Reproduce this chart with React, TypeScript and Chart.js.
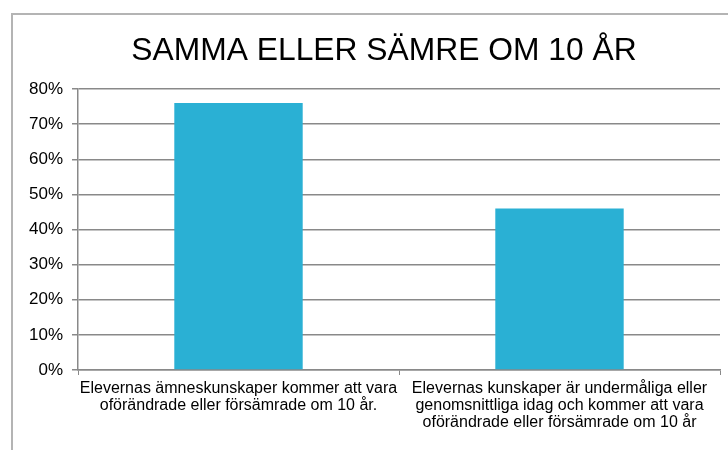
import React, { useEffect, useRef } from "react";
import { Chart, registerables } from "chart.js";

Chart.register(...registerables);

const TITLE = "SAMMA ELLER SÄMRE OM 10 ÅR";
const CATEGORIES: string[][] = [
  ["Elevernas ämneskunskaper kommer att vara", "oförändrade eller försämrade om 10 år."],
  [
    "Elevernas kunskaper är undermåliga eller",
    "genomsnittliga idag och kommer att vara",
    "oförändrade eller försämrade om 10 år",
  ],
];
const VALUES = [0.76, 0.46];
const Y_TICKS = [0, 0.1, 0.2, 0.3, 0.4, 0.5, 0.6, 0.7, 0.8];

const FONT = "'Liberation Sans', Arial, sans-serif";
const GRID = "#898989";
const BAR = "#2AB0D4";

const framePlugin = {
  id: "frame",
  beforeDraw(chart: any) {
    const ctx = chart.ctx;
    ctx.save();
    ctx.fillStyle = "#ffffff";
    ctx.fillRect(0, 0, chart.width, chart.height);
    ctx.strokeStyle = "#b4b4b4";
    ctx.lineWidth = 2;
    ctx.strokeRect(12, 14, 900, 700);
    ctx.restore();
  },
  afterDraw(chart: any) {
    const ctx = chart.ctx;
    ctx.save();
    ctx.fillStyle = "#000000";
    ctx.font = `31.8px ${FONT}`;
    ctx.textAlign = "center";
    ctx.textBaseline = "alphabetic";
    ctx.fillText(TITLE, 384, 60);
    ctx.restore();
  },
};

export default function App() {
  const ref = useRef<HTMLCanvasElement>(null);
  useEffect(() => {
    if (!ref.current) return;
    const chart = new Chart(ref.current, {
      type: "bar",
      data: {
        labels: CATEGORIES,
        datasets: [
          {
            data: VALUES,
            backgroundColor: BAR,
            borderWidth: 0,
            categoryPercentage: 1,
            barPercentage: 0.4,
          },
        ],
      },
      options: {
        responsive: false,
        animation: false,
        devicePixelRatio: 1,
        layout: { padding: { top: 89, left: 0, right: 8, bottom: 0 } },
        plugins: {
          legend: { display: false },
          title: { display: false },
          tooltip: { enabled: false },
        },
        scales: {
          x: {
            type: "category",
            grid: {
              display: true,
              drawOnChartArea: false,
              drawTicks: true,
              tickLength: 5,
              color: GRID,
              offset: true,
            },
            border: { display: true, color: GRID, width: 1.5 },
            ticks: {
              color: "#000000",
              font: { family: FONT, size: 16, lineHeight: "17px" },
              maxRotation: 0,
              minRotation: 0,
              autoSkip: false,
              padding: 5,
            },
            afterFit(scale: any) {
              scale.height = 80;
            },
          },
          y: {
            min: 0,
            max: 0.8,
            afterBuildTicks(scale: any) {
              scale.ticks = Y_TICKS.map((v) => ({ value: v }));
            },
            grid: {
              color: GRID,
              lineWidth: 1.5,
              drawTicks: true,
              tickLength: 6,
            },
            border: { display: true, color: GRID, width: 1.5 },
            ticks: {
              color: "#000000",
              font: { family: FONT, size: 17 },
              padding: 9,
              callback: (v: any) => `${Math.round(Number(v) * 100)}%`,
            },
            afterFit(scale: any) {
              scale.width = 78;
            },
          },
        },
      },
      plugins: [framePlugin],
    });
    return () => chart.destroy();
  }, []);
  return (
    <div style={{ position: "absolute", left: 0, top: 0, width: 728, height: 450, background: "#fff" }}>
      <canvas ref={ref} width={728} height={450} style={{ display: "block" }} />
    </div>
  );
}
